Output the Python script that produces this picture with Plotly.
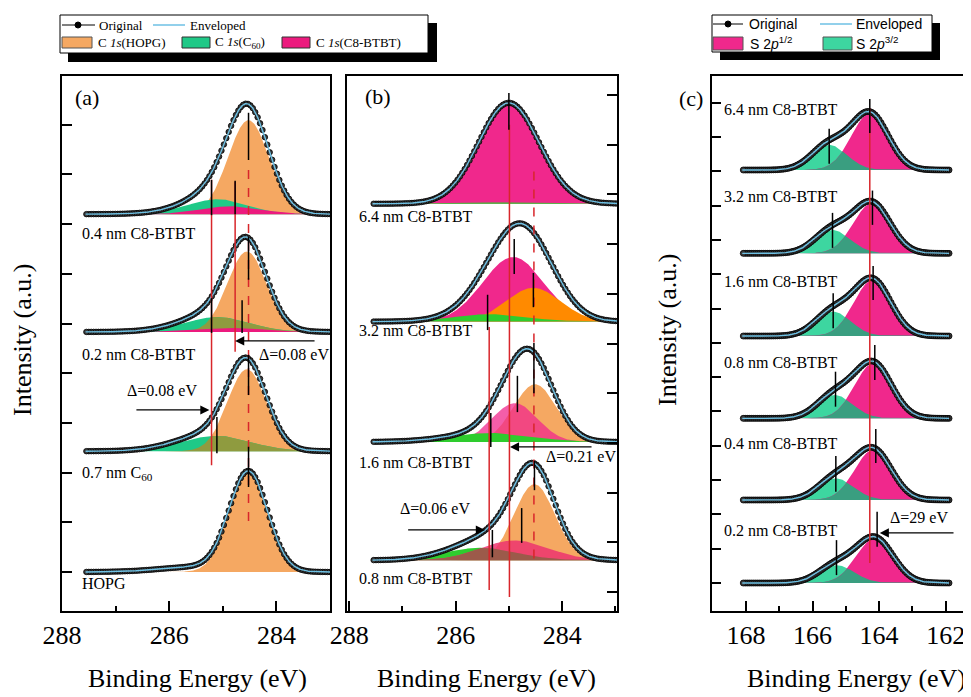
import numpy as np
import plotly.graph_objects as go

W, H = 971, 697
OFF = 8  # page body margin in the browser

# ---------------- Panel (a): C 1s, HOPG -> C60 -> C8-BTBT ----------------
a_names = ["HOPG", "0.7 nm C<sub>60</sub>", "0.2 nm C8-BTBT", "0.4 nm C8-BTBT"]
a_offset = [0.00, 2.43, 4.83, 7.20]
a_hopg_pos = [284.52, 284.55, 284.55, 284.52]
a_hopg_amp = [2.00, 1.65, 1.62, 1.89]
a_hopg_fwhm = [0.84, 0.85, 0.85, 0.90]
a_c60_pos = [285.10, 285.12, 285.10, 285.10]
a_c60_amp = [0.00, 0.31, 0.30, 0.30]
a_c60_fwhm = [1.40, 1.50, 1.40, 1.30]
a_btbt_pos = [284.80, 284.80, 284.80, 284.85]
a_btbt_amp = [0.00, 0.00, 0.08, 0.16]
a_btbt_fwhm = [1.40, 1.40, 1.40, 1.30]
a_tail_pos = [285.50, 285.50, 285.50, 285.50]
a_tail_amp = [0.10, 0.06, 0.05, 0.05]
a_tail_fwhm = [1.60, 1.60, 1.60, 1.60]
a_olive = [False, True, True, False]
a_label_y = [-0.24, 1.99, 4.37, 6.82]

# ---------------- Panel (b): C 1s, C8-BTBT thickness series ----------------
b_names = ["0.8 nm C8-BTBT", "1.6 nm C8-BTBT", "3.2 nm C8-BTBT", "6.4 nm C8-BTBT"]
b_offset = [0.64, 3.02, 5.44, 7.81]
b_hopg_pos = [284.52, 284.51, 284.54, 284.54]
b_hopg_amp = [1.53, 1.16, 0.68, 0.00]
b_hopg_fwhm = [0.90, 0.95, 1.20, 1.00]
b_btbt_pos = [284.89, 284.89, 284.92, 285.00]
b_btbt_amp = [0.40, 0.78, 1.30, 2.00]
b_btbt_fwhm = [1.50, 1.00, 1.35, 1.33]
b_c60_pos = [285.54, 285.35, 285.35, 285.00]
b_c60_amp = [0.25, 0.18, 0.15, 0.03]
b_c60_fwhm = [1.60, 1.80, 1.60, 2.20]
b_label_y = [0.28, 2.60, 5.27, 7.55]

# ---------------- Panel (c): S 2p, C8-BTBT thickness series ----------------
c_names = ["0.2 nm C8-BTBT", "0.4 nm C8-BTBT", "0.8 nm C8-BTBT",
           "1.6 nm C8-BTBT", "3.2 nm C8-BTBT", "6.4 nm C8-BTBT"]
c_offset = [0.00, 2.42, 4.80, 7.20, 9.61, 12.04]
c_p12_pos = [164.13, 164.18, 164.18, 164.20, 164.22, 164.28]
c_p12_amp = [1.30, 1.46, 1.60, 1.63, 1.46, 1.65]
c_p12_fwhm = [1.30, 1.30, 1.30, 1.30, 1.30, 1.30]
c_p32_pos = [165.28, 165.30, 165.33, 165.38, 165.40, 165.50]
c_p32_amp = [0.52, 0.63, 0.68, 0.71, 0.68, 0.73]
c_p32_fwhm = [1.25, 1.25, 1.25, 1.25, 1.25, 1.25]
c_label_y = [1.52, 4.08, 6.44, 8.80, 11.28, 13.79]

# ---------------- peak-position markers (x, y0, y1) ----------------
a_marks = [(285.21, 7.89, 7.18), (284.77, 7.87, 7.20), (284.52, 9.24, 8.29),
           (285.21, 5.51, 4.81), (284.64, 5.47, 4.81), (284.52, 6.74, 5.88),
           (285.11, 3.12, 2.39), (284.52, 4.37, 3.56), (284.52, 2.52, 1.71)]
b_marks = [(285.00, 10.04, 9.30),
           (284.90, 7.10, 6.40), (285.40, 5.98, 5.27), (284.54, 6.42, 5.73),
           (284.84, 4.35, 3.62), (285.34, 3.60, 2.92), (284.53, 5.01, 4.00),
           (284.76, 1.69, 0.99), (285.31, 1.25, 0.70), (284.52, 2.64, 2.05)]
c_marks = [(165.50, 13.24, 12.22), (164.28, 14.11, 13.12),
           (165.40, 10.79, 9.77), (164.20, 11.44, 10.44),
           (165.38, 8.45, 7.43), (164.18, 9.24, 8.25),
           (165.31, 6.16, 5.14), (164.13, 6.94, 5.92),
           (165.30, 3.70, 2.66), (164.10, 4.49, 3.50),
           (165.28, 1.25, 0.23), (164.06, 2.08, 1.06)]
# red guide lines (x, y0, y1, dashed)
a_red = [(285.21, 7.89, 2.15, False), (284.77, 7.85, 4.43, False), (284.52, 8.09, 0.85, True)]
b_red = [(284.99, 9.40, -0.10, False), (285.37, 5.33, 0.04, False), (284.53, 8.46, 0.64, True)]
c_red = [(164.28, 13.85, 0.58, False)]

# colours
ORANGE = "#F5A862"
GREEN_A = "#1FC987"
PINK_A = "#EC1A7E"
OLIVE = "#8F9B3F"
PINK_B = "#F0288C"
ORANGE_B = "#FF8A00"
LIME = "#2ECC2E"
BROWN = "#9C5A4A"
PINK_C = "#F0288C"
GREEN_C = "#3DD6A0"
TEAL = "#3A9E80"
ENV = "#6EC1E4"
RED = "#D8262B"
SERIF = "Liberation Serif"
SANS = "Liberation Sans"


def PX(px):
    return (px - OFF) / W


def PY(py):
    return 1 - (py - OFF) / H


def gauss(x, c, h, w):
    return h * np.exp(-4 * np.log(2) * (x - c) ** 2 / w ** 2)


fig = go.Figure()


def add_fill(ax, x, base, comp, color):
    xs = np.concatenate([x, x[::-1]])
    ys = np.concatenate([base + comp, np.full_like(x, base)])
    fig.add_trace(go.Scatter(x=xs, y=ys, mode="lines", fill="toself", fillcolor=color,
                             line=dict(width=0), hoverinfo="skip", showlegend=False,
                             xaxis="x" + ax, yaxis="y" + ax))


def add_spectrum(ax, xf, xd, base, env_f, env_d, msize):
    fig.add_trace(go.Scatter(x=xd, y=base + env_d, mode="lines+markers",
                             line=dict(color="black", width=1),
                             marker=dict(color="#3a3a3a", size=msize,
                                         line=dict(color="black", width=0.8)),
                             hoverinfo="skip", showlegend=False,
                             xaxis="x" + ax, yaxis="y" + ax))
    fig.add_trace(go.Scatter(x=xf, y=base + env_f, mode="lines",
                             line=dict(color=ENV, width=1.4),
                             hoverinfo="skip", showlegend=False,
                             xaxis="x" + ax, yaxis="y" + ax))


# ---------- panel (a) ----------
xa_f = np.arange(283.00, 287.56, 0.01)
xa_d = np.arange(283.00, 287.56, 0.045)
for i in range(4):
    b = a_offset[i]
    def comps(x):
        o = gauss(x, a_hopg_pos[i], a_hopg_amp[i], a_hopg_fwhm[i])
        g = gauss(x, a_c60_pos[i], a_c60_amp[i], a_c60_fwhm[i])
        p = gauss(x, a_btbt_pos[i], a_btbt_amp[i], a_btbt_fwhm[i])
        t = gauss(x, a_tail_pos[i], a_tail_amp[i], a_tail_fwhm[i])
        return o, g, p, t
    o, g, p, t = comps(xa_f)
    add_fill("", xa_f, b, o, ORANGE)
    if a_c60_amp[i] > 0:
        add_fill("", xa_f, b, g, GREEN_A)
        if a_olive[i]:
            add_fill("", xa_f, b, np.minimum(g, o), OLIVE)
    if a_btbt_amp[i] > 0:
        add_fill("", xa_f, b, p, PINK_A)
    od, gd, pd_, td = comps(xa_d)
    add_spectrum("", xa_f, xa_d, b, o + g + p + t, od + gd + pd_ + td, 5.5)

# ---------- panel (b) ----------
xb_f = np.arange(282.95, 287.56, 0.01)
xb_d = np.arange(282.95, 287.56, 0.045)
for i in range(4):
    b = b_offset[i]
    def comps(x):
        o = gauss(x, b_hopg_pos[i], b_hopg_amp[i], b_hopg_fwhm[i])
        p = gauss(x, b_btbt_pos[i], b_btbt_amp[i], b_btbt_fwhm[i])
        g = gauss(x, b_c60_pos[i], b_c60_amp[i], b_c60_fwhm[i])
        return o, p, g
    o, p, g = comps(xb_f)
    if i == 0:
        add_fill("2", xb_f, b, o, ORANGE)
        add_fill("2", xb_f, b, g, LIME)
        add_fill("2", xb_f, b, p, "rgba(236,52,112,0.85)")
        add_fill("2", xb_f, b, np.minimum(g, p), BROWN)
    elif i == 1:
        add_fill("2", xb_f, b, o, ORANGE)
        add_fill("2", xb_f, b, p, "rgba(240,40,140,0.75)")
        add_fill("2", xb_f, b, g, LIME)
    elif i == 2:
        add_fill("2", xb_f, b, p, PINK_B)
        add_fill("2", xb_f, b, o, ORANGE_B)
        add_fill("2", xb_f, b, g, LIME)
    else:
        add_fill("2", xb_f, b, p, PINK_B)
        add_fill("2", xb_f, b, g, LIME)
    od, pd_, gd = comps(xb_d)
    add_spectrum("2", xb_f, xb_d, b, o + p + g, od + pd_ + gd, 5.5)

# ---------- panel (c) ----------
xc_f = np.arange(161.90, 168.11, 0.01)
xc_d = np.arange(161.90, 168.11, 0.06)
for i in range(6):
    b = c_offset[i]
    def comps(x):
        p = gauss(x, c_p12_pos[i], c_p12_amp[i], c_p12_fwhm[i])
        g = gauss(x, c_p32_pos[i], c_p32_amp[i], c_p32_fwhm[i])
        return p, g
    p, g = comps(xc_f)
    add_fill("3", xc_f, b, g, GREEN_C)
    add_fill("3", xc_f, b, p, PINK_C)
    add_fill("3", xc_f, b, np.minimum(g, p), TEAL)
    pd_, gd = comps(xc_d)
    add_spectrum("3", xc_f, xc_d, b, p + g, pd_ + gd, 6)

shapes = []
annotations = []


def vline(ax, x, y0, y1, color, dash=None, width=1.5):
    shapes.append(dict(type="line", xref="x" + ax, yref="y" + ax, x0=x, x1=x, y0=y0, y1=y1,
                       line=dict(color=color, width=width, dash=dash or "solid")))


for ax, reds, marks in (("", a_red, a_marks), ("2", b_red, b_marks), ("3", c_red, c_marks)):
    for (x, y0, y1, d) in reds:
        vline(ax, x, y0, y1, RED, "dash" if d else None)
    for (x, y0, y1) in marks:
        vline(ax, x, y0, y1, "black")


def txt(ax, x, y, s, size=16, xanchor="left", family=SERIF):
    annotations.append(dict(xref="x" + ax, yref="y" + ax, x=x, y=y, text=s, showarrow=False,
                            xanchor=xanchor, yanchor="middle",
                            font=dict(size=size, family=family, color="black")))


def arrow(ax, x0, x1, y):
    annotations.append(dict(xref="x" + ax, yref="y" + ax, axref="x" + ax, ayref="y" + ax,
                            x=x1, y=y, ax=x0, ay=y, text="", showarrow=True,
                            arrowhead=2, arrowsize=1.4, arrowwidth=1.3, arrowcolor="black"))


for n, y in zip(a_names, a_label_y):
    txt("", 287.67, y, n)
for n, y in zip(b_names, b_label_y):
    txt("2", 287.85, y, n)
for n, y in zip(c_names, c_label_y):
    txt("3", 168.72, y, n)

txt("", 287.80, 9.54, "(a)", 22)
txt("2", 287.74, 9.96, "(b)", 22)

arrow("", 283.26, 284.77, 4.65)
txt("", 283.67, 4.37, "Δ=0.08 eV", 16, "center")
arrow("", 286.64, 285.25, 3.26)
txt("", 286.14, 3.66, "Δ=0.08 eV", 16, "center")
arrow("2", 283.42, 284.98, 2.92)
txt("2", 283.64, 2.72, "Δ=0.21 eV", 16, "center")
arrow("2", 286.92, 285.45, 1.25)
txt("2", 286.39, 1.69, "Δ=0.06 eV", 16, "center")
arrow("3", 161.72, 163.98, 1.46)
txt("3", 162.80, 1.90, "Δ=29 eV", 16, "center")


def ptxt(px, py, s, size, family=SERIF, xanchor="left", angle=0):
    annotations.append(dict(xref="paper", yref="paper", x=PX(px), y=PY(py), text=s,
                            showarrow=False, xanchor=xanchor, yanchor="middle", textangle=angle,
                            font=dict(size=size, family=family, color="black")))


def prect(x0, y0, x1, y1, fill, line="black", lw=1):
    shapes.append(dict(type="rect", xref="paper", yref="paper", x0=PX(x0), x1=PX(x1),
                       y0=PY(y1), y1=PY(y0), fillcolor=fill,
                       line=dict(color=line, width=lw), layer="above"))


def pline(x0, y0, x1, y1, color, lw=1):
    shapes.append(dict(type="line", xref="paper", yref="paper", x0=PX(x0), x1=PX(x1),
                       y0=PY(y0), y1=PY(y1), line=dict(color=color, width=lw),
                       layer="above"))


def pdot(x, y, r=3):
    shapes.append(dict(type="circle", xref="paper", yref="paper", x0=PX(x - r), x1=PX(x + r),
                       y0=PY(y + r), y1=PY(y - r), fillcolor="black",
                       line=dict(color="black", width=1), layer="above"))


ptxt(677, 98, "(c)", 22)
ptxt(22, 340, "Intensity (a.u.)", 26, angle=-90, xanchor="center")
ptxt(668, 330, "Intensity (a.u.)", 26, angle=-90, xanchor="center")
for cx in (197, 486, 856):
    ptxt(cx, 678, "Binding Energy (eV)", 26, xanchor="center")

# legend 1
prect(68, 23, 437, 62, "black", "black", 0)
prect(60, 15, 428, 53, "white")
pline(62, 25, 95, 25, "black")
pdot(78, 25)
ptxt(97, 25, "Original", 13)
pline(153, 25, 185, 25, ENV, 1.5)
ptxt(188, 25, "Enveloped", 13)
prect(62, 37, 92, 48, ORANGE, "#555555")
ptxt(96, 42, "C <i>1s</i>(HOPG)", 13)
prect(182, 37, 210, 48, GREEN_A, "#333333")
ptxt(213, 42, "C <i>1s</i>(C<sub>60</sub>)", 13)
prect(282, 37, 310, 48, PINK_A, "#333333")
ptxt(314, 42, "C <i>1s</i>(C8-BTBT)", 13)

# legend 2
prect(720, 23, 940, 60, "black", "black", 0)
prect(712, 15, 932, 52, "white")
pline(713, 24, 743, 24, "black")
pdot(728, 24)
ptxt(747, 24, "Original", 14, SANS)
pline(820, 24, 852, 24, ENV, 1.5)
ptxt(854, 24, "Enveloped", 14, SANS)
prect(713, 37, 743, 50, PINK_C, "#555555")
ptxt(748, 43, "S 2<i>p</i><sup>1/2</sup>", 14, SANS)
prect(823, 37, 852, 50, GREEN_C, "#555555")
ptxt(854, 43, "S 2<i>p</i><sup>3/2</sup>", 14, SANS)


def xax(d0, d1, rng, anchor, tick0=284):
    return dict(domain=[PX(d0), PX(d1)], range=rng, anchor=anchor, showline=True,
                linecolor="black", linewidth=1.5, mirror=True, ticks="inside", ticklen=10,
                tickwidth=1.5, tickcolor="black", tick0=tick0, dtick=2, automargin=False,
                minor=dict(dtick=1, ticks="inside", ticklen=5, tickwidth=1.5, tickcolor="black"),
                showgrid=False, zeroline=False,
                tickfont=dict(size=26, family=SERIF, color="black"))


ydom = [PY(611), PY(76)]


def yax(rng, vals, anchor, side="left", tl=10):
    return dict(domain=ydom, range=rng, anchor=anchor, side=side, showline=True,
                linecolor="black", linewidth=1.5, mirror=True, ticks="inside", ticklen=tl,
                tickwidth=1.5, tickcolor="black", tickvals=vals, showticklabels=False,
                showgrid=False, zeroline=False, automargin=False)


fig.update_layout(
    template="none",
    width=W, height=H, margin=dict(l=0, r=0, t=0, b=0, pad=0), autosize=False,
    paper_bgcolor="white", plot_bgcolor="white", showlegend=False,
    font=dict(family=SERIF, color="black"),
    xaxis=xax(62, 330, [288, 283], "y"),
    yaxis=yax([-0.785, 9.98], list(range(0, 10)), "x"),
    xaxis2=xax(347, 617, [288.04, 282.97], "y2"),
    yaxis2=yax([-0.38, 10.38], list(range(0, 11)), "x2", side="right"),
    xaxis3=xax(712, 968, [169.02, 161.33], "y3", tick0=162),
    yaxis3=yax([-0.816, 14.78], list(range(0, 15)), "x3", tl=9),
    shapes=shapes, annotations=annotations,
)

fig.write_html("out.html")
